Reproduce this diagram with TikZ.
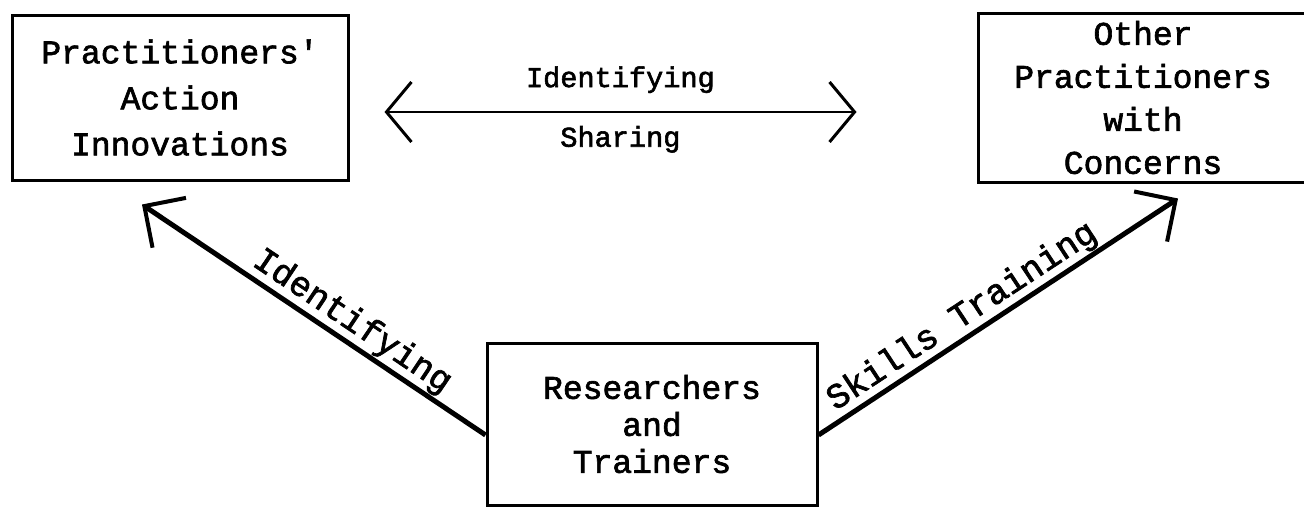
\documentclass[tikz,border=0pt]{standalone}
\usepackage{fontspec}
\setmainfont{Liberation Mono}[AutoFakeBold=2]
\usetikzlibrary{arrows.meta,calc}
\begin{document}
\begin{tikzpicture}[x=0.5pt,y=-0.5pt,
  box/.style={draw, line width=1.5pt, align=center, inner sep=0pt},
  boxtext/.style={font=\fontsize{16.5}{#1}\selectfont\bfseries},
  sharearrow/.style={line width=1pt,
    {Straight Barb[length=12.5pt,width=30pt,line width=1.5pt]}-{Straight Barb[length=12.5pt,width=30pt,line width=1.5pt]}},
  diagarrow/.style={line width=2.5pt,
    -{Straight Barb[length=15pt,width=30pt,line width=2pt]}},
  flowlabel/.style={font=\fontsize{14.3}{17}\selectfont\bfseries, inner sep=0pt},
  diaglabel/.style={font=\fontsize{17.5}{20}\selectfont\bfseries, inner sep=0.5pt, sloped, anchor=south}
]
\useasboundingbox (0,0) rectangle (1304,509);

% the three boxes
\node[box, boxtext=23pt, minimum width=168pt, minimum height=82.5pt] (pa) at (180,97.5)
  {Practitioners\textquotesingle\\Action\\Innovations};
\node[box, boxtext=21.5pt, minimum width=165pt, minimum height=84.5pt] (op) at (1143,97.5)
  {Other\\Practitioners\\with\\Concerns};
\node[box, boxtext=18.5pt, minimum width=165pt, minimum height=81pt] (rt) at (652,424)
  {Researchers\\and\\Trainers};

% exchange between the practitioner groups
\draw[sharearrow, shorten <=17.5pt, shorten >=60pt]
  ([yshift=-7.25pt]pa.east) -- ([yshift=-7.25pt]op.west)
  node[flowlabel, pos=0.432, above=9pt] (lid) {Identifying}
  node[flowlabel, pos=0.432, below=6.5pt] (lsh) {Sharing};

% links from researchers and trainers
\draw[diagarrow] ($(rt.west)+(0,11)$) -- ($(pa.south)+(-38,23)$)
  node[diaglabel, pos=0.42] (lidd) {Identifying};
\draw[diagarrow] ($(rt.east)+(0,11)$) -- ($(op.south)+(35,15)$)
  node[diaglabel, pos=0.43] (lsk) {Skills Training};
\end{tikzpicture}
\end{document}
